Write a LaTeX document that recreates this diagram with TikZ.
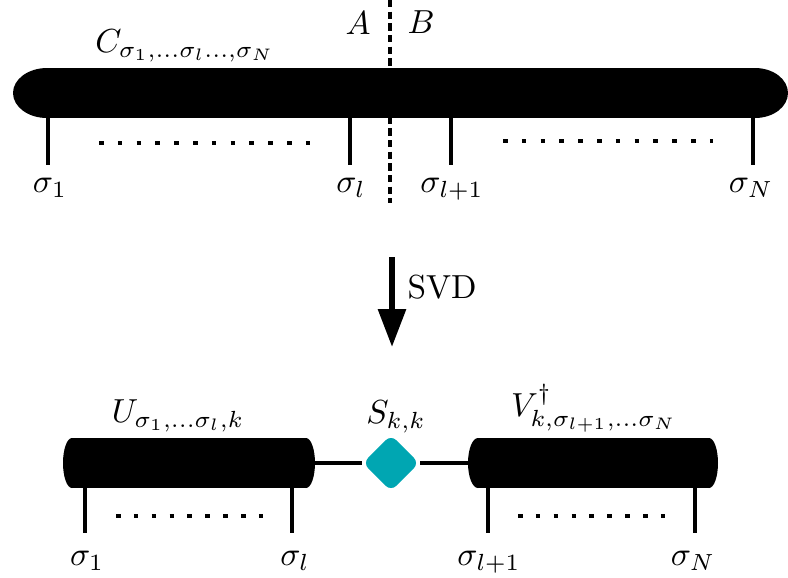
\documentclass[tikz,border=0pt]{standalone}
\usetikzlibrary{arrows.meta,shapes.geometric}
\definecolor{teal}{RGB}{0,166,178}
\begin{document}
\begin{tikzpicture}[x=0.3pt,y=-0.3pt,
  leg/.style={line width=1.45pt},
  dotsA/.style={line width=1.35pt, dash pattern=on 1.35pt off 4.29pt},
  dotsB/.style={line width=1.35pt, dash pattern=on 1.35pt off 4.01pt},
  cut/.style={line width=1.1pt, dash pattern=on 2.2pt off 1.3pt},
  bond/.style={line width=1.4pt},
  lab/.style={inner sep=0pt, anchor=base},
  tensorS/.style={diamond, fill=teal, inner sep=0pt, minimum size=17pt, rounded corners=2.2pt}]
\useasboundingbox (0,0) rectangle (788,577);
% cut line
\coordinate (cutTop) at (390,0);
\coordinate (cutBot) at (390,203);
\draw[cut] (cutTop) -- (cutBot);
% top tensor
\fill (47,68) rectangle (755,118);
\fill (47,93) ellipse [x radius=34, y radius=25];
\fill (755,93) ellipse [x radius=33, y radius=25];
\node[lab, anchor=base] (Clab) at (185,52) {$C_{\sigma_1,\ldots\sigma_l\ldots,\sigma_N}$};
\node[lab] (A) at (358,34) {$A$};
\node[lab] (B) at (421,33) {$B$};
\foreach \n/\x in {t1/48, tl/350, tlp/451, tN/753}{
  \coordinate (\n top) at (\x,115);
  \coordinate (\n bot) at (\x,165);
}
\node[lab] (s1) at (50,192) {$\sigma_1$};
\node[lab] (sl) at (351,192) {$\sigma_l$};
\node[lab] (slp) at (452,192) {$\sigma_{l+1}$};
\node[lab] (sN) at (751,192) {$\sigma_N$};
\foreach \n in {t1,tl,tlp,tN}{\draw[leg] (\n top) -- (\n bot);}
\coordinate (d1a) at (99,143); \coordinate (d1b) at (311,143);
\coordinate (d2a) at (503,141); \coordinate (d2b) at (713,141);
\draw[dotsA] (d1a) -- (d1b);
\draw[dotsA] (d2a) -- (d2b);
% arrow
\coordinate (arrTop) at (392,257);
\coordinate (arrTip) at (392,347);
\draw[line width=1.8pt, -{Triangle[length=11.4pt,width=8.1pt]}] (arrTop) -- (arrTip);
\node[lab, anchor=base west] (svd) at (407,298) {SVD};
% bottom
\node[tensorS] (S) at (391,463) {};
\coordinate (Uright) at (312,463);
\coordinate (Vleft) at (471,463);
\draw[bond] (Uright) -- (S) -- (Vleft);
\fill (72,438) rectangle (306,488);
\fill (72,463) ellipse [x radius=9, y radius=25];
\fill (306,463) ellipse [x radius=9, y radius=25];
\fill (478,438) rectangle (709,488);
\fill (478,463) ellipse [x radius=10, y radius=25];
\fill (709,463) ellipse [x radius=9, y radius=25];
\node[lab] (Ulab) at (178,422) {$U_{\sigma_1,\ldots\sigma_l,k}$};
\node[lab] (Slab) at (396,423) {$S_{k,k}$};
\node[lab] (Vlab) at (594,416) {$V^{\dagger}_{k,\sigma_{l+1},\ldots\sigma_N}$};
\foreach \n/\x in {b1/85, bl/292, blp/488, bN/695}{
  \coordinate (\n top) at (\x,485);
  \coordinate (\n bot) at (\x,533);
  \draw[leg] (\n top) -- (\n bot);
}
\node[lab] (u1) at (87,565) {$\sigma_1$};
\node[lab] (ul) at (295,565) {$\sigma_l$};
\node[lab] (ulp) at (489,565) {$\sigma_{l+1}$};
\node[lab] (uN) at (693,565) {$\sigma_N$};
\coordinate (d3a) at (116,516); \coordinate (d3b) at (264,516);
\coordinate (d4a) at (518,516); \coordinate (d4b) at (666,516);
\draw[dotsB] (d3a) -- (d3b);
\draw[dotsB] (d4a) -- (d4b);
\end{tikzpicture}
\end{document}
